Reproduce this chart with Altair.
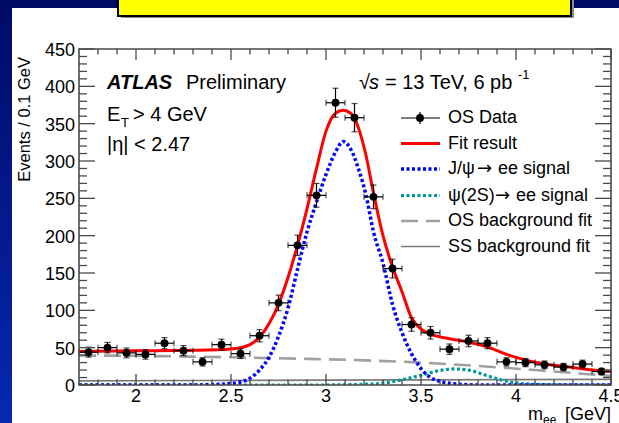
import altair as alt
import numpy as np
import pandas as pd

# ---------------------------------------------------------------- data
# OS di-electron candidates, bin centres (GeV) and counts per 0.1 GeV
mass_centres = [1.75, 1.85, 1.95, 2.05, 2.15, 2.25, 2.35, 2.45, 2.55, 2.65,
                2.75, 2.85, 2.95, 3.05, 3.15, 3.25, 3.35, 3.45, 3.55, 3.65,
                3.75, 3.85, 3.95, 4.05, 4.15, 4.25, 4.35, 4.45]
os_counts = [44, 50, 43, 41, 56, 46, 31, 54, 42, 66,
             110, 187, 254, 378, 358, 252, 156, 81, 70, 48,
             59, 56, 31, 30, 27, 24, 28, 18]

# total fit result
fit_mass = [1.70, 1.90, 2.10, 2.30, 2.45, 2.55, 2.60, 2.65, 2.70, 2.75, 2.80,
            2.85, 2.90, 2.95, 3.00, 3.05, 3.09, 3.13, 3.17, 3.21, 3.25, 3.30,
            3.35, 3.40, 3.45, 3.50, 3.55, 3.65, 3.75, 3.85, 3.90, 3.95, 4.00,
            4.10, 4.20, 4.30, 4.40, 4.50]
fit_value = [45, 45.5, 46, 46.5, 47.5, 50, 54, 64, 82, 108, 144,
             187, 236, 290, 340, 364, 368, 364, 345, 308, 257, 200,
             158, 125, 90, 75, 68, 62, 57.5, 51, 46, 41, 37,
             30.5, 26.5, 23.5, 20, 18]

# J/psi -> ee signal component
jpsi_mass = [1.70, 2.30, 2.40, 2.50, 2.55, 2.60, 2.65, 2.70, 2.75, 2.80, 2.85,
             2.90, 2.95, 3.00, 3.05, 3.09, 3.13, 3.17, 3.21, 3.25, 3.30, 3.35,
             3.40, 3.45, 3.50, 3.55, 3.60, 3.70, 3.80, 4.50]
jpsi_value = [0, 0, 0.5, 2, 4, 9, 20, 37, 65, 103, 155,
              205, 245, 282, 312, 326, 316, 290, 255, 205, 163, 108,
              70, 42, 22, 10, 5, 1, 0, 0]

# psi(2S) -> ee signal component
psi2s_mass = [1.70, 3.00, 3.10, 3.20, 3.30, 3.40, 3.50, 3.60, 3.67, 3.75,
              3.83, 3.95, 4.05, 4.15, 4.30, 4.50]
psi2s_value = [0, 0, 0.3, 1, 2.5, 7, 13, 19.5, 21.5, 20,
               14, 5, 1.5, 0.5, 0, 0]

# opposite-sign background fit
osbg_mass = [1.70, 2.00, 2.30, 2.60, 2.90, 3.20, 3.50, 3.80, 4.10, 4.50]
osbg_value = [39.5, 39, 38, 36.5, 35, 33, 30, 25.5, 20, 12]

# same-sign background fit
ssbg_mass = [1.70, 3.00, 4.50]
ssbg_value = [5.5, 6.5, 7.5]

# axis ticks and labels
x_major = [2.0, 2.5, 3.0, 3.5, 4.0, 4.5]
x_labels = ["2", "2.5", "3", "3.5", "4", "4.5"]
x_minor = [1.8, 1.9, 2.1, 2.2, 2.3, 2.4, 2.6, 2.7, 2.8, 2.9, 3.1, 3.2, 3.3,
           3.4, 3.6, 3.7, 3.8, 3.9, 4.1, 4.2, 4.3, 4.4]
y_major = [0, 50, 100, 150, 200, 250, 300, 350, 400, 450]
y_labels = ["0", "50", "100", "150", "200", "250", "300", "350", "400", "450"]
y_minor = [v for v in range(10, 450, 10) if v % 50]

legend_rows = [69, 94.5, 120, 146.5, 172, 197.5]

# ---------------------------------------------------------------- style
W, H = 532, 336
FONT = "Liberation Sans, Arial, Helvetica, sans-serif"
ARROW_FONT = "DejaVu Sans, sans-serif"
FRAME = "#4a4a4a"

xs = alt.Scale(domain=[1.7, 4.5], nice=False, zero=False)
ys = alt.Scale(domain=[0, 450], nice=False, zero=False)

one = pd.DataFrame({"k": [0]})


def X(field):
    return alt.X(field, type="quantitative", scale=xs, axis=None)


def Y(field):
    return alt.Y(field, type="quantitative", scale=ys, axis=None)


def box(x0, x1, y0, y1, **mark):
    return alt.Chart(one).mark_rect(**mark).encode(
        x=alt.value(x0), x2=alt.value(x1), y=alt.value(y0), y2=alt.value(y1))


def text(s, x, y, size=20, **mark):
    kw = dict(font=FONT, fontSize=size, align="left", baseline="middle",
              color="black")
    kw.update(mark)
    return alt.Chart(one).mark_text(text=s, **kw).encode(
        x=alt.value(x), y=alt.value(y))


def curve(ms, vs, color, width, dash=None):
    df = pd.DataFrame({"m": ms, "v": vs})
    kw = dict(color=color, strokeWidth=width, interpolate="monotone",
              clip=True, strokeCap="butt")
    if dash:
        kw["strokeDash"] = dash
    return alt.Chart(df).mark_line(**kw).encode(x=X("m"), y=Y("v"))


def swatch(y, color, width, dash=None):
    kw = dict(color=color, strokeWidth=width, strokeCap="butt")
    if dash:
        kw["strokeDash"] = dash
    return alt.Chart(one).mark_rule(**kw).encode(
        x=alt.value(322), x2=alt.value(361), y=alt.value(y))


layers = []

# slide background and white panel
slide_blue = alt.Gradient(
    gradient="linear", x1=0, x2=0, y1=0, y2=1,
    stops=[alt.GradientStop(color="#000a66", offset=0),
           alt.GradientStop(color="#0628b2", offset=1)])
layers.append(box(-79, 540, -49, 374, color=slide_blue))
layers.append(box(-67, 540, -41, 374, color="white"))
layers.append(box(42, 495, -60, -31, color="#8c8c8c"))
layers.append(box(39, 492, -60, -33, color="#ffff00", stroke="black",
                  strokeWidth=2))

# fit components
DOT = [3, 2.5]
layers.append(curve(ssbg_mass, ssbg_value, "#7a7a7a", 1.6))
layers.append(curve(osbg_mass, osbg_value, "#a0a0a0", 2.6, [17, 8]))
layers.append(curve(psi2s_mass, psi2s_value, "#009a9a", 3.2, DOT))
layers.append(curve(jpsi_mass, jpsi_value, "#0000ff", 3.5, DOT))
layers.append(curve(fit_mass, fit_value, "#ff0000", 3))

# data points with error bars
d = pd.DataFrame({"m": mass_centres, "n": os_counts})
d["err"] = np.sqrt(d["n"])
d["lo"] = d["n"] - d["err"]
d["hi"] = d["n"] + d["err"]
d["mlo"] = d["m"] - 0.05
d["mhi"] = d["m"] + 0.05
base = alt.Chart(d)
layers.append(base.mark_rule(color="black", strokeWidth=1.2).encode(
    x=X("m"), y=Y("lo"), y2="hi"))
layers.append(base.mark_rule(color="black", strokeWidth=1.2).encode(
    x=X("mlo"), x2="mhi", y=Y("n")))
for f in ["lo", "hi"]:
    layers.append(base.mark_tick(color="black", orient="horizontal", size=6,
                                 thickness=1.2).encode(x=X("m"), y=Y(f)))
for f in ["mlo", "mhi"]:
    layers.append(base.mark_tick(color="black", orient="vertical", size=6,
                                 thickness=1.2).encode(x=X(f), y=Y("n")))
layers.append(base.mark_circle(color="black", size=62, opacity=1).encode(
    x=X("m"), y=Y("n")))

# inward ticks on all four sides of the frame
xt_major = alt.Chart(pd.DataFrame({"v": x_major}))
xt_minor = alt.Chart(pd.DataFrame({"v": x_minor}))
yt_major = alt.Chart(pd.DataFrame({"v": y_major}))
yt_minor = alt.Chart(pd.DataFrame({"v": y_minor}))
tk = dict(color=FRAME, strokeWidth=1.3)
for src, ln in [(xt_major, 11), (xt_minor, 5.5)]:
    layers.append(src.mark_rule(**tk).encode(
        x=X("v"), y=alt.value(H), y2=alt.value(H - ln)))
    layers.append(src.mark_rule(**tk).encode(
        x=X("v"), y=alt.value(0), y2=alt.value(ln)))
for src, ln in [(yt_major, 16), (yt_minor, 8)]:
    layers.append(src.mark_rule(**tk).encode(
        y=Y("v"), x=alt.value(0), x2=alt.value(ln)))
    layers.append(src.mark_rule(**tk).encode(
        y=Y("v"), x=alt.value(W), x2=alt.value(W - ln)))

# frame
layers.append(box(0, W, 0, H, fill=None, fillOpacity=0, stroke=FRAME,
                  strokeWidth=1.6))

# tick labels
layers.append(alt.Chart(pd.DataFrame({"v": x_major, "t": x_labels}))
              .mark_text(font=FONT, fontSize=18, align="center",
                         baseline="middle", color="black")
              .encode(x=X("v"), y=alt.value(348), text="t:N"))
layers.append(alt.Chart(pd.DataFrame({"v": y_major, "t": y_labels}))
              .mark_text(font=FONT, fontSize=18, align="right",
                         baseline="middle", color="black", dy=2)
              .encode(y=Y("v"), x=alt.value(-4), text="t:N"))

# axis titles
layers.append(text("Events / 0.1 GeV", -54, 8, size=16.5, angle=270,
                   align="right"))
layers.append(text("m", 449, 371, size=18, baseline="alphabetic"))
layers.append(text("ee", 464, 375, size=12, baseline="alphabetic"))
layers.append(text("[GeV]", 532, 371, size=18, baseline="alphabetic",
                   align="right"))

# labels inside the frame
layers.append(text("ATLAS", 28, 34, fontWeight="bold", fontStyle="italic"))
layers.append(text("Preliminary", 107, 34))
layers.append(text("E", 28, 66))
layers.append(text("T", 42, 74, size=13))
layers.append(text("> 4 GeV", 54, 66))
layers.append(text("|η| < 2.47", 28, 96))
layers.append(text("√", 280, 34))
layers.append(text("s", 290, 34, fontStyle="italic"))
layers.append(text("= 13 TeV, 6 pb", 306, 34))
layers.append(text("-1", 439, 26, size=13))

# legend
LS = 18
layers.append(text("OS Data", 369, legend_rows[0], size=LS))
layers.append(text("Fit result", 369, legend_rows[1], size=LS))
layers.append(text("J/ψ", 369, legend_rows[2], size=LS))
layers.append(text("→", 398, legend_rows[2], size=LS, font=ARROW_FONT))
layers.append(text("ee signal", 419, legend_rows[2], size=LS))
layers.append(text("ψ(2S)", 369, legend_rows[3], size=LS))
layers.append(text("→", 416, legend_rows[3], size=LS, font=ARROW_FONT))
layers.append(text("ee signal", 437, legend_rows[3], size=LS))
layers.append(text("OS background fit", 369, legend_rows[4], size=LS))
layers.append(text("SS background fit", 369, legend_rows[5], size=LS))

r0 = legend_rows[0]
layers.append(swatch(r0, "black", 1.2))
layers.append(alt.Chart(one).mark_rule(color="black", strokeWidth=1.2).encode(
    x=alt.value(341), y=alt.value(r0 - 6), y2=alt.value(r0 + 6)))
layers.append(alt.Chart(one).mark_circle(color="black", size=62, opacity=1)
              .encode(x=alt.value(341), y=alt.value(r0)))
layers.append(swatch(legend_rows[1], "#ff0000", 3))
layers.append(swatch(legend_rows[2], "#0000ff", 3.5, DOT))
layers.append(swatch(legend_rows[3], "#009a9a", 3.2, DOT))
layers.append(swatch(legend_rows[4], "#a0a0a0", 2.6, [17, 8]))
layers.append(swatch(legend_rows[5], "#7a7a7a", 1.6))

chart = (
    alt.layer(*layers)
    .properties(width=W, height=H,
                padding={"left": 79, "top": 49, "right": 8, "bottom": 38},
                autosize=alt.AutoSizeParams(type="none"))
    .configure(background="#0a1a8a")
    .configure_view(stroke=None)
)

chart.save("out.html", embed_options={"renderer": "svg", "actions": False})
